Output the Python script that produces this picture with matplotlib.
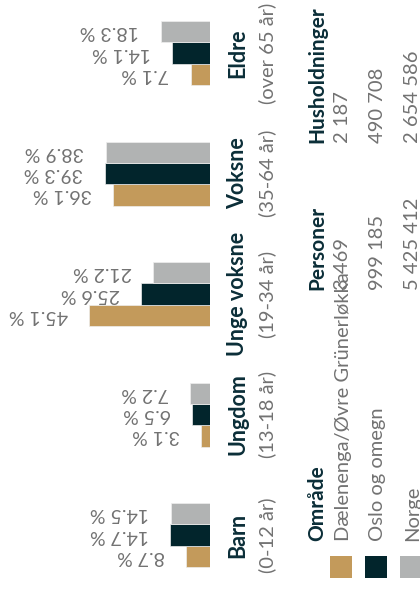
import matplotlib
matplotlib.use("Agg")
import matplotlib.pyplot as plt
from matplotlib.transforms import blended_transform_factory
from matplotlib.patches import Rectangle

plt.rcParams['font.family'] = ['Lato', 'DejaVu Sans']

# ---- data ----
categories = ["Barn", "Ungdom", "Unge voksne", "Voksne", "Eldre"]
subtitles = ["(0-12 år)", "(13-18 år)", "(19-34 år)", "(35-64 år)", "(over 65 år)"]
dael = [8.7, 3.1, 45.1, 36.1, 7.1]
oslo = [14.7, 6.5, 25.6, 39.3, 14.1]
norge = [14.5, 7.2, 21.2, 38.9, 18.3]

areas = ["Dælenenga/Øvre Grünerløkka", "Oslo og omegn", "Norge"]
persons = ["3 469", "999 185", "5 425 412"]
households = ["2 187", "490 708", "2 654 586"]
headers = ["Område", "Personer", "Husholdninger"]

colors = ["#C39A5B", "#02252C", "#B1B3B3"]
DARK = "#0B2E38"
GRAY = "#727272"

W, H = 420, 592
fig = plt.figure(figsize=(W / 100, H / 100), dpi=100)
fig.patch.set_facecolor("white")

def fx(px):
    return px / W

def fy(py):
    return 1 - py / H

ax = fig.add_axes([0, 0, 209.7 / W, 1])
ax.set_xlim(78.5, 0)
ax.set_ylim(-0.473, 4.44)
ax.axis("off")

bh = 0.177
ypos = list(range(len(categories)))
series = [dael, oslo, norge]
offsets = [-bh, 0, bh]
for vals, off, col in zip(series, offsets, colors):
    ys = [y + off for y in ypos]
    bars = ax.barh(ys, vals, height=bh, color=col, edgecolor="#eeeeee", linewidth=0.5)
    for y, v in zip(ys, vals):
        ax.annotate(f"{v:.1f} %", xy=(v, y), xytext=(-15.5, 0), textcoords="offset points",
                    rotation=180, ha="right", va="center", fontsize=14, color=GRAY,
                    annotation_clip=False)

# category labels
bt = blended_transform_factory(fig.transFigure, ax.transData)
for y, c, s in zip(ypos, categories, subtitles):
    fig.text(fx(244), y, c, transform=bt, rotation=90, rotation_mode="anchor",
             ha="center", va="baseline", fontsize=15.5, fontweight="bold", color=DARK)
    fig.text(fx(273), y, s, transform=bt, rotation=90, rotation_mode="anchor",
             ha="center", va="baseline", fontsize=14.5, color=GRAY)

# table / legend
col_starts = [541, 290, 143]
header_x = 323
row_x = [348.5, 383, 418]
columns = [areas, persons, households]
for start, head, colvals in zip(col_starts, headers, columns):
    fig.text(fx(header_x), fy(start), head, rotation=90, rotation_mode="anchor",
             ha="left", va="baseline", fontsize=15, fontweight="bold", color=DARK)
    for rx, val in zip(row_x, colvals):
        fig.text(fx(rx), fy(start), val, rotation=90, rotation_mode="anchor",
                 ha="left", va="baseline", fontsize=14.5, color=GRAY)

# legend squares
sq = 22
for rx, col in zip(row_x, colors):
    cx = rx - 7.5
    fig.patches.append(Rectangle((fx(cx - sq / 2), fy(578)), sq / W, sq / H,
                                 transform=fig.transFigure, facecolor=col, edgecolor="none"))

fig.savefig("out.png", dpi=100)
